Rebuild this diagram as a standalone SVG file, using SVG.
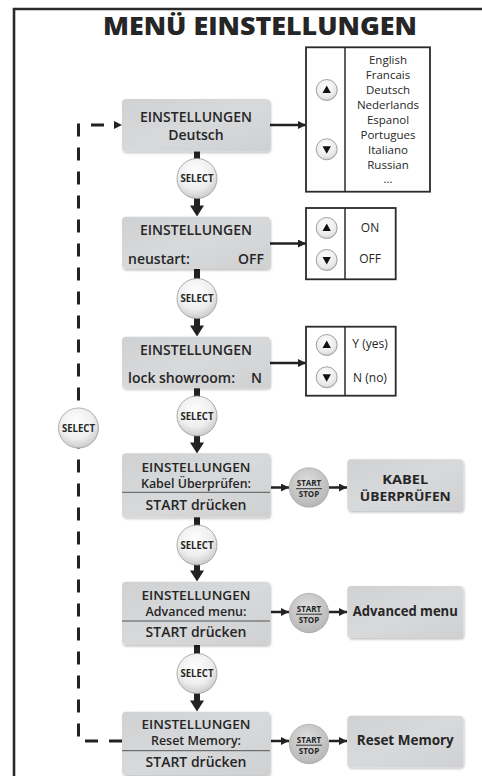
<svg xmlns="http://www.w3.org/2000/svg" width="482" height="776" viewBox="0 0 482 776">
<style>
text{font-family:"Open Sans","Noto Sans","DejaVu Sans",sans-serif;fill:#262626;text-anchor:middle}
.h{font-size:14px;font-weight:600}
.h2{font-size:13px;font-weight:600}
.s{font-size:12px;font-weight:600}
.b{font-size:13px;font-weight:700}
.r{font-size:11.5px;font-weight:400}
.sel{font-size:10.5px;font-weight:700}
.ss{font-size:8px;font-weight:700}
.box{fill:url(#boxg);filter:url(#sh)}
.line{stroke:#222;stroke-width:2.5;fill:none}
.pan{fill:#fff;stroke:#2a2a2a;stroke-width:1.8}
.dash{stroke:#222;stroke-width:3;fill:none;stroke-dasharray:13 11}
.selc{fill:url(#selg);stroke:#9a9a9a;stroke-width:0.8}
.ssc{fill:url(#ssg);stroke:#9a9a9a;stroke-width:0.6}
.btn{fill:url(#btng);stroke:#8c8c8c;stroke-width:0.8}
</style>
<defs>
<linearGradient id="boxg" x1="0" y1="0" x2="1" y2="1">
<stop offset="0" stop-color="#d0d1d3"/><stop offset="0.5" stop-color="#d8d9db"/><stop offset="1" stop-color="#cfd0d2"/>
</linearGradient>
<radialGradient id="selg" cx="0.45" cy="0.35" r="0.7">
<stop offset="0" stop-color="#ffffff"/><stop offset="0.6" stop-color="#eeeeee"/><stop offset="1" stop-color="#c4c4c4"/>
</radialGradient>
<radialGradient id="ssg" cx="0.45" cy="0.35" r="0.7">
<stop offset="0" stop-color="#dedede"/><stop offset="1" stop-color="#b4b4b4"/>
</radialGradient>
<radialGradient id="btng" cx="0.45" cy="0.35" r="0.7">
<stop offset="0" stop-color="#ffffff"/><stop offset="0.7" stop-color="#eaeaea"/><stop offset="1" stop-color="#c8c8c8"/>
</radialGradient>
<filter id="sh" x="-10%" y="-10%" width="125%" height="130%">
<feDropShadow dx="1" dy="1.5" stdDeviation="1.2" flood-color="#000" flood-opacity="0.25"/>
</filter>
<marker id="ah" viewBox="0 0 10 10" refX="10" refY="5" markerWidth="8" markerHeight="8" markerUnits="userSpaceOnUse" orient="auto">
<path d="M0,0 L10,5 L0,10 Z" fill="#222"/>
</marker>
<g id="down"><polygon points="-7,0 7,0 0,11" fill="#222"/></g>
<g id="up"><polygon points="0,-4.5 4.2,3 -4.2,3" fill="#111"/></g>
<g id="dn"><polygon points="0,4.5 4.2,-3 -4.2,-3" fill="#111"/></g>
</defs>

<g id="frame">
<path d="M14,776 V9 H482" fill="none" stroke="#2a2a2a" stroke-width="2.6"/>
</g>
<text id="title" x="260" y="35" style="font-size:25px;font-weight:800" textLength="314" lengthAdjust="spacingAndGlyphs">MENÜ EINSTELLUNGEN</text>

<g id="connectors">
<path class="dash" d="M122,741 H78.5 V125 H116"/>
<polygon points="114,121 122,125 114,129" fill="#222"/>
<line class="line" x1="270" y1="125" x2="306" y2="125" marker-end="url(#ah)"/>
<line class="line" x1="270" y1="243.5" x2="306" y2="243.5" marker-end="url(#ah)"/>
<line class="line" x1="270" y1="363" x2="306" y2="363" marker-end="url(#ah)"/>
<line class="line" x1="271" y1="487.5" x2="289" y2="487.5" marker-end="url(#ah)"/>
<line class="line" x1="329" y1="487.5" x2="347" y2="487.5" marker-end="url(#ah)"/>
<line class="line" x1="271" y1="612" x2="289" y2="612" marker-end="url(#ah)"/>
<line class="line" x1="329" y1="612" x2="347" y2="612" marker-end="url(#ah)"/>
<line class="line" x1="271" y1="741" x2="289" y2="741" marker-end="url(#ah)"/>
<line class="line" x1="329" y1="741" x2="347" y2="741" marker-end="url(#ah)"/>
<rect x="194" y="151" width="6" height="57" fill="#222"/>
<use href="#down" x="197" y="205.5"/>
<rect x="194" y="269" width="6" height="58" fill="#222"/>
<use href="#down" x="197" y="325.5"/>
<rect x="194" y="388" width="6" height="55" fill="#222"/>
<use href="#down" x="197" y="442.5"/>
<rect x="194" y="517" width="6" height="55" fill="#222"/>
<use href="#down" x="197" y="570.5"/>
<rect x="194" y="645" width="6" height="57" fill="#222"/>
<use href="#down" x="197" y="700.5"/>
</g>

<g id="sel-loop"><circle class="selc" cx="78.5" cy="428" r="20"/><text class="sel" x="78.5" y="431.8" textLength="33" lengthAdjust="spacingAndGlyphs">SELECT</text></g>
<g id="sel1"><circle class="selc" cx="197" cy="178.5" r="20"/><text class="sel" x="197" y="182.3" textLength="33" lengthAdjust="spacingAndGlyphs">SELECT</text></g>
<g id="sel2"><circle class="selc" cx="197" cy="298.5" r="20"/><text class="sel" x="197" y="302.3" textLength="33" lengthAdjust="spacingAndGlyphs">SELECT</text></g>
<g id="sel3"><circle class="selc" cx="197" cy="416" r="20"/><text class="sel" x="197" y="419.8" textLength="33" lengthAdjust="spacingAndGlyphs">SELECT</text></g>
<g id="sel4"><circle class="selc" cx="197" cy="545" r="20"/><text class="sel" x="197" y="548.8" textLength="33" lengthAdjust="spacingAndGlyphs">SELECT</text></g>
<g id="sel5"><circle class="selc" cx="197" cy="673.5" r="20"/><text class="sel" x="197" y="677.3" textLength="33" lengthAdjust="spacingAndGlyphs">SELECT</text></g>

<g id="n1"><rect class="box" x="122" y="99" width="148" height="52.5" rx="4"/>
<text class="h" x="196" y="122.3">EINSTELLUNGEN</text><text class="h" x="196" y="140">Deutsch</text></g>
<g id="n2"><rect class="box" x="122" y="216.7" width="148" height="52.3" rx="4"/>
<text class="h" x="196" y="235">EINSTELLUNGEN</text>
<text class="h" x="128" y="264.3" style="text-anchor:start">neustart:</text><text class="h" x="264" y="264.3" style="text-anchor:end">OFF</text></g>
<g id="n3"><rect class="box" x="122" y="336.7" width="148" height="51.6" rx="4"/>
<text class="h" x="196" y="355">EINSTELLUNGEN</text>
<text class="h" x="128" y="382.7" style="text-anchor:start">lock showroom:</text><text class="h" x="262" y="382.7" style="text-anchor:end">N</text></g>
<g id="n4"><rect class="box" x="122" y="453.3" width="148" height="64" rx="4"/>
<line x1="122" y1="492.3" x2="270" y2="492.3" stroke="#555" stroke-width="1"/>
<text class="h2" x="196" y="472.2" textLength="109" lengthAdjust="spacingAndGlyphs">EINSTELLUNGEN</text>
<text class="s" x="196" y="487.7" textLength="110" lengthAdjust="spacingAndGlyphs">Kabel Überprüfen:</text>
<text class="h" x="196" y="510">START drücken</text></g>
<g id="n5"><rect class="box" x="122" y="581.7" width="148" height="63.3" rx="4"/>
<line x1="122" y1="621" x2="270" y2="621" stroke="#555" stroke-width="1"/>
<text class="h2" x="196" y="600" textLength="109" lengthAdjust="spacingAndGlyphs">EINSTELLUNGEN</text>
<text class="s" x="196" y="616" textLength="101" lengthAdjust="spacingAndGlyphs">Advanced menu:</text>
<text class="h" x="196" y="637.3">START drücken</text></g>
<g id="n6"><rect class="box" x="122" y="711.7" width="148" height="63.3" rx="4"/>
<line x1="122" y1="750.7" x2="270" y2="750.7" stroke="#555" stroke-width="1"/>
<text class="h2" x="196" y="729.3" textLength="109" lengthAdjust="spacingAndGlyphs">EINSTELLUNGEN</text>
<text class="s" x="196" y="745" textLength="90" lengthAdjust="spacingAndGlyphs">Reset Memory:</text>
<text class="h" x="196" y="766.7">START drücken</text></g>

<g id="lang"><rect class="pan" x="306" y="47.3" width="124" height="144.4"/>
<line x1="345" y1="47.3" x2="345" y2="191.7" stroke="#2a2a2a" stroke-width="1.5"/>
<circle class="btn" cx="326.7" cy="90" r="10.5"/><use href="#up" x="326.7" y="90"/>
<circle class="btn" cx="326.7" cy="149.3" r="10.5"/><use href="#dn" x="326.7" y="149.3"/>
<text class="r" x="388" y="64">English</text><text class="r" x="388" y="79">Francais</text>
<text class="r" x="388" y="94">Deutsch</text><text class="r" x="388" y="109">Nederlands</text>
<text class="r" x="388" y="124">Espanol</text><text class="r" x="388" y="139">Portugues</text>
<text class="r" x="388" y="154">Italiano</text><text class="r" x="388" y="169">Russian</text>
<text class="r" x="388" y="183">...</text></g>

<g id="onoff"><rect class="pan" x="306" y="208" width="89.7" height="71.3"/>
<line x1="345" y1="208" x2="345" y2="279.3" stroke="#2a2a2a" stroke-width="1.5"/>
<circle class="btn" cx="326.7" cy="228" r="10.5"/><use href="#up" x="326.7" y="228"/>
<circle class="btn" cx="326.7" cy="260" r="10.5"/><use href="#dn" x="326.7" y="260"/>
<text class="r" x="370" y="231.7" style="font-size:12px">ON</text><text class="r" x="370" y="263.3" style="font-size:12px">OFF</text></g>

<g id="yn"><rect class="pan" x="306" y="326.7" width="89.7" height="69"/>
<line x1="345" y1="326.7" x2="345" y2="395.7" stroke="#2a2a2a" stroke-width="1.5"/>
<circle class="btn" cx="326.7" cy="345" r="10.5"/><use href="#up" x="326.7" y="345"/>
<circle class="btn" cx="326.7" cy="377.3" r="10.5"/><use href="#dn" x="326.7" y="377.3"/>
<text class="r" x="370" y="348.3" style="font-size:12px">Y (yes)</text><text class="r" x="370" y="381.7" style="font-size:12px">N (no)</text></g>

<g id="ss1"><circle class="ssc" cx="309" cy="487.5" r="19.7"/>
<text class="ss" x="309" y="486">START</text><line x1="296" y1="488.7" x2="322" y2="488.7" stroke="#222" stroke-width="0.9"/><text class="ss" x="309" y="497.3">STOP</text></g>
<g id="ss2"><circle class="ssc" cx="309" cy="613" r="19.7"/>
<text class="ss" x="309" y="611.5">START</text><line x1="296" y1="614.2" x2="322" y2="614.2" stroke="#222" stroke-width="0.9"/><text class="ss" x="309" y="622.8">STOP</text></g>
<g id="ss3"><circle class="ssc" cx="309" cy="744" r="19.7"/>
<text class="ss" x="309" y="742.5">START</text><line x1="296" y1="745.2" x2="322" y2="745.2" stroke="#222" stroke-width="0.9"/><text class="ss" x="309" y="753.8">STOP</text></g>

<g id="kabel"><rect class="box" x="347.3" y="459.3" width="116" height="51.7" rx="4"/>
<text class="b" x="405.3" y="484" textLength="46" lengthAdjust="spacingAndGlyphs">KABEL</text><text class="b" x="405.3" y="501" textLength="91" lengthAdjust="spacingAndGlyphs">ÜBERPRÜFEN</text></g>
<g id="adv"><rect class="box" x="347.3" y="586" width="116" height="52" rx="4"/>
<text class="b" x="405.3" y="616" textLength="105" lengthAdjust="spacingAndGlyphs" style="font-size:14.5px">Advanced menu</text></g>
<g id="reset"><rect class="box" x="347.3" y="715.7" width="116" height="51.6" rx="4"/>
<text class="b" x="405.3" y="745" textLength="97" lengthAdjust="spacingAndGlyphs" style="font-size:14.5px">Reset Memory</text></g>
</svg>
